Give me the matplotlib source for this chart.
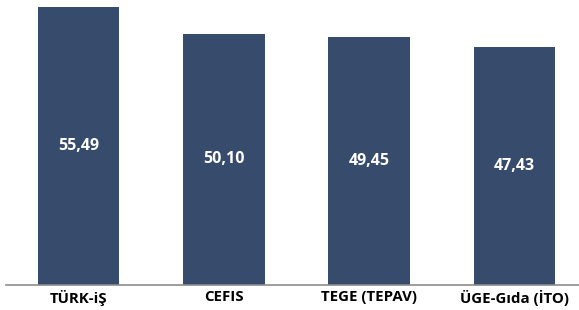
import matplotlib
matplotlib.use("Agg")
import matplotlib.pyplot as plt

categories = ["TÜRK-iŞ", "CEFIS", "TEGE (TEPAV)", "ÜGE-Gıda (İTO)"]
values = [55.49, 50.10, 49.45, 47.43]

bar_color = "#374C6C"

fig = plt.figure(figsize=(5.79, 3.10), dpi=100)
# axis spans slightly past the right edge, as in the cropped original
ax = fig.add_axes([6 / 579, 25.5 / 310, 581 / 579, 284.5 / 310])

x = list(range(len(categories)))
bars = ax.bar(x, values, width=0.56, color=bar_color)

for xi, v in zip(x, values):
    ax.text(xi, v / 2, f"{v:.2f}".replace(".", ","), ha="center", va="center",
            color="white", fontsize=11.5, fontweight="bold", family="Open Sans")

ax.set_xlim(-0.5, 3.5)
ax.set_ylim(0, 56.89)
ax.set_xticks(x)
ax.set_xticklabels(categories, fontsize=10.8, fontweight="bold", family="Open Sans")
ax.tick_params(axis="x", length=0, pad=4)
ax.set_yticks([])
for side in ("top", "left", "right"):
    ax.spines[side].set_visible(False)
ax.spines["bottom"].set_color("#8c8c8c")
ax.spines["bottom"].set_linewidth(1.2)

fig.savefig("out.png", dpi=100)
